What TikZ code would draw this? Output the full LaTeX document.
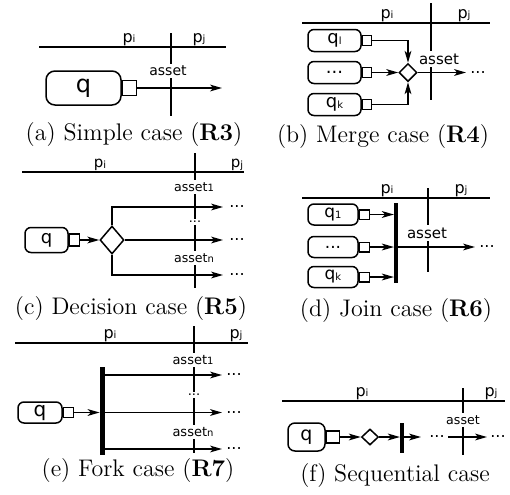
\documentclass[tikz,border=0pt]{standalone}
\usepackage{fontspec}
\usetikzlibrary{arrows.meta,shapes.geometric}
\newfontfamily\dv{DejaVu Sans}
\newcommand\fsz[1]{\dv\fontsize{#1}{#1}\selectfont}
\newcommand\subx[1]{\raisebox{-0.3pt}{\fontsize{5}{5}\selectfont #1}}
\tikzset{
  ln/.style={line width=0.75pt},
  arr/.style={line width=0.75pt,-{Stealth[length=6pt,width=3.4pt,inset=1.6pt]}},
  qbox/.style={draw,line width=0.75pt,rounded corners=3pt,inner sep=0pt},
  port/.style={draw,line width=0.75pt,inner sep=0pt,anchor=west},
  gate/.style={draw,diamond,line width=0.75pt,inner sep=0pt},
  barn/.style={fill=black,draw=none,inner sep=0pt},
  lbl/.style={fill=white,inner sep=1.2pt},
  plbl/.style={anchor=south,inner sep=0.5pt,font=\fsz{8}},
  dots/.style={inner sep=0pt,font=\fsz{8}},
  captxt/.style={inner sep=0pt,font=\fontsize{12}{14}\selectfont}
}
\begin{document}
\begin{tikzpicture}[x=0.5pt,y=-0.5pt]
\path[use as bounding box] (0,0) rectangle (510,494);
% ---------------- (a)
\coordinate (a-l) at (39,47); \coordinate (a-r) at (226,47);
\draw[ln] (a-l) -- (a-r);
\coordinate (a-t) at (171,33); \coordinate (a-b) at (171,116);
\draw[ln] (a-t) -- (a-b);
\node[plbl] (a-pi) at (129,47) {p\subx{i}};
\node[plbl] (a-pj) at (199,47) {p\subx{j}};
\node[qbox,rounded corners=4.5pt,minimum width=37.5pt,minimum height=17pt,font=\fsz{12}] (a-q) at (83.5,88) {q};
\node[port,minimum width=7pt,minimum height=7.5pt] (a-s) at (a-q.east) {};
\coordinate (a-e) at (222,88);
\draw[arr] (a-s.east) -- (a-e);
\node[lbl,font=\fsz{7}] (a-as) at (168,71) {asset};
\node[captxt] (a-cap) at (134,135) {(a) Simple case (\textbf{R3})};
% ---------------- (b)
\coordinate (b-l) at (302,23); \coordinate (b-r) at (490,23);
\draw[ln] (b-l) -- (b-r);
\coordinate (b-t) at (431,3); \coordinate (b-b) at (431,100);
\draw[ln] (b-t) -- (b-b);
\node[plbl] (b-pi) at (387,23) {p\subx{i}};
\node[plbl] (b-pj) at (464,23) {p\subx{j}};
\node[qbox,minimum width=26.5pt,minimum height=11pt,font=\fsz{9}] (b-q1) at (334.5,40.5) {q\subx{l}};
\node[qbox,minimum width=26.5pt,minimum height=11pt,font=\fsz{9}] (b-q2) at (334.5,72.5) {...};
\node[qbox,minimum width=26.5pt,minimum height=11pt,font=\fsz{9}] (b-q3) at (334.5,104.5) {q\subx{k}};
\node[port,minimum width=4.5pt,minimum height=5pt] (b-s1) at (b-q1.east) {};
\node[port,minimum width=4.5pt,minimum height=5pt] (b-s2) at (b-q2.east) {};
\node[port,minimum width=4.5pt,minimum height=5pt] (b-s3) at (b-q3.east) {};
\node[gate,minimum width=9pt,minimum height=9pt] (b-d) at (408,72.5) {};
\draw[arr] (b-s1.east) -| (b-d.north);
\draw[arr] (b-s2.east) -- (b-d.west);
\draw[arr] (b-s3.east) -| (b-d.south);
\coordinate (b-e) at (466,72.5);
\draw[arr] (b-d.east) -- (b-e);
\node[dots] (b-dt) at (478,72.5) {...};
\node[lbl,font=\fsz{7.5}] (b-as) at (439,59) {asset};
\node[captxt] (b-cap) at (383,137) {(b) Merge case (\textbf{R4})};
% ---------------- (c)
\coordinate (c-l) at (22,172); \coordinate (c-r) at (244,172);
\draw[ln] (c-l) -- (c-r);
\coordinate (c-t) at (195,153); \coordinate (c-b) at (195,288);
\draw[ln] (c-t) -- (c-b);
\node[plbl,font=\fsz{7.5}] (c-pi) at (100,172) {p\subx{i}};
\node[plbl,font=\fsz{7.5}] (c-pj) at (237,172) {p\subx{j}};
\node[qbox,minimum width=21.5pt,minimum height=12.5pt,font=\fsz{9}] (c-q) at (46.5,240) {q};
\node[port,minimum width=5pt,minimum height=6pt] (c-s) at (c-q.east) {};
\node[gate,minimum width=12pt,minimum height=14pt] (c-d) at (112,240) {};
\draw[arr] (c-s.east) -- (c-d.west);
\coordinate (c-e1) at (223,207); \coordinate (c-e2) at (223,240); \coordinate (c-e3) at (223,275);
\draw[arr] (c-d.north) |- (c-e1);
\draw[arr] (c-d.east) -- (c-e2);
\draw[arr] (c-d.south) |- (c-e3);
\node[dots] (c-dt1) at (237,207) {...};
\node[dots] (c-dt2) at (237,240) {...};
\node[dots] (c-dt3) at (237,275) {...};
\node[lbl,font=\fsz{6.3}] (c-as1) at (194,187) {asset\subx{1}};
\node[lbl,font=\fsz{6.3}] (c-mid) at (195,222) {...};
\node[lbl,font=\fsz{6.3}] (c-asn) at (194,258) {asset\subx{n}};
\node[captxt] (c-cap) at (131,309) {(c) Decision case (\textbf{R5})};
% ---------------- (d)
\coordinate (d-l) at (302,198); \coordinate (d-r) at (490,198);
\draw[ln] (d-l) -- (d-r);
\coordinate (d-t) at (428,188); \coordinate (d-b) at (428,272);
\draw[ln] (d-t) -- (d-b);
\node[plbl] (d-pi) at (387,198) {p\subx{i}};
\node[plbl] (d-pj) at (461,198) {p\subx{j}};
\node[qbox,minimum width=25pt,minimum height=10.5pt,font=\fsz{8.5}] (d-q1) at (333,214.5) {q\subx{1}};
\node[qbox,minimum width=25pt,minimum height=10.5pt,font=\fsz{8.5}] (d-q2) at (333,247) {...};
\node[qbox,minimum width=25pt,minimum height=10.5pt,font=\fsz{8.5}] (d-q3) at (333,277) {q\subx{k}};
\node[port,minimum width=5pt,minimum height=4.75pt] (d-s1) at (d-q1.east) {};
\node[port,minimum width=5pt,minimum height=4.75pt] (d-s2) at (d-q2.east) {};
\node[port,minimum width=5pt,minimum height=4.75pt] (d-s3) at (d-q3.east) {};
\node[barn,minimum width=1.7pt,minimum height=40pt] (d-bar) at (396,243) {};
\draw[arr] (d-s1.east) -- (d-bar.west |- d-s1.east);
\draw[arr] (d-s2.east) -- (d-bar.west |- d-s2.east);
\draw[arr] (d-s3.east) -- (d-bar.west |- d-s3.east);
\coordinate (d-e) at (475,247);
\draw[arr] (d-bar.east |- d-e) -- (d-e);
\node[dots] (d-dt) at (487,247) {...};
\node[lbl,font=\fsz{7.5}] (d-as) at (427,233) {asset};
\node[captxt] (d-cap) at (396,311) {(d) Join case (\textbf{R6})};
% ---------------- (e)
\coordinate (e-l) at (15,343); \coordinate (e-r) at (248,343);
\draw[ln] (e-l) -- (e-r);
\coordinate (e-t) at (194,326); \coordinate (e-b) at (194,453);
\draw[ln] (e-t) -- (e-b);
\node[plbl] (e-pi) at (110,343) {p\subx{i}};
\node[plbl] (e-pj) at (236,343) {p\subx{j}};
\node[qbox,minimum width=22pt,minimum height=10.5pt,font=\fsz{10}] (e-q) at (40,412.5) {q};
\node[port,minimum width=5pt,minimum height=5pt] (e-s) at (e-q.east) {};
\node[barn,minimum width=2.5pt,minimum height=44pt] (e-bar) at (102.5,411) {};
\draw[arr] (e-s.east) -- (e-bar.west |- e-s.east);
\coordinate (e-e1) at (222,375); \coordinate (e-e2) at (222,412.5); \coordinate (e-e3) at (222,449);
\draw[arr] (e-bar.east |- e-e1) -- (e-e1);
\draw[arr] (e-bar.east |- e-e2) -- (e-e2);
\draw[arr] (e-bar.east |- e-e3) -- (e-e3);
\node[dots] (e-dt1) at (234,375) {...};
\node[dots] (e-dt2) at (234,412.5) {...};
\node[dots] (e-dt3) at (234,449) {...};
\node[lbl,font=\fsz{6.5}] (e-as1) at (193,360) {asset\subx{1}};
\node[lbl,font=\fsz{6.5}] (e-mid) at (194,395) {...};
\node[lbl,font=\fsz{6.5}] (e-asn) at (193,432) {asset\subx{n}};
\node[captxt] (e-cap) at (138,471) {(e) Fork case (\textbf{R7})};
% ---------------- (f)
\coordinate (f-l) at (282,401); \coordinate (f-r) at (505,401);
\draw[ln] (f-l) -- (f-r);
\coordinate (f-t) at (463,388); \coordinate (f-b) at (463,455);
\draw[ln] (f-t) -- (f-b);
\node[plbl] (f-pi) at (362,401) {p\subx{i}};
\node[plbl] (f-pj) at (491,401) {p\subx{j}};
\node[qbox,rounded corners=3.5pt,minimum width=18.5pt,minimum height=14pt,font=\fsz{9.5}] (f-q) at (306.5,437) {q};
\node[port,minimum width=6.5pt,minimum height=6pt] (f-s) at (f-q.east) {};
\node[gate,minimum width=8.5pt,minimum height=8pt] (f-d) at (370,437) {};
\node[barn,minimum width=1.7pt,minimum height=15pt] (f-bar) at (402,437.5) {};
\draw[arr] (f-s.east) -- (f-d.west);
\draw[arr] (f-d.east) -- (f-bar.west |- f-d.east);
\coordinate (f-e1) at (421,437);
\draw[arr] (f-bar.east |- f-e1) -- (f-e1);
\node[dots] (f-dt1) at (437,437) {...};
\coordinate (f-m) at (448,437); \coordinate (f-e2) at (487,437);
\draw[arr] (f-m) -- (f-e2);
\node[dots] (f-dt2) at (498,437) {...};
\node[lbl,font=\fsz{6.3}] (f-as) at (463,420) {asset};
\node[captxt] (f-cap) at (395,476) {(f) Sequential case};
\end{tikzpicture}
\end{document}
